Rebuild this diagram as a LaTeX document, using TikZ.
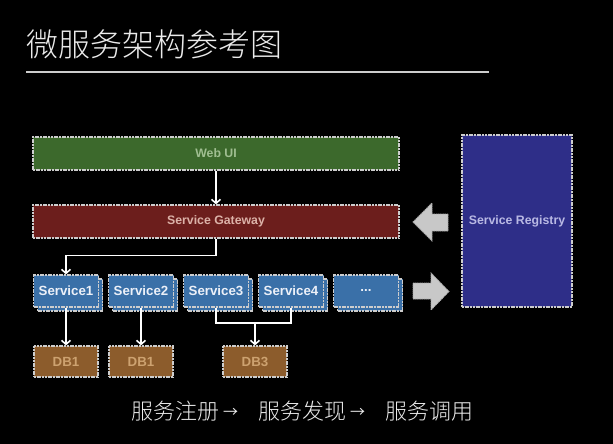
\documentclass[tikz,border=0pt]{standalone}
\usepackage{fontspec}
\setmainfont{Liberation Sans}
\newfontfamily\cjk{Noto Sans CJK SC Light}
\newfontfamily\cjkreg{Noto Sans CJK SC}
\usetikzlibrary{arrows.meta, shadows}

\definecolor{chalk}{RGB}{205,205,205}
\definecolor{webgreen}{RGB}{60,105,44}
\definecolor{webtext}{RGB}{160,190,145}
\definecolor{gatered}{RGB}{108,30,28}
\definecolor{gatetext}{RGB}{220,178,168}
\definecolor{svcblue}{RGB}{58,112,168}
\definecolor{svctext}{RGB}{236,240,248}
\definecolor{dbbrown}{RGB}{140,92,44}
\definecolor{dbtext}{RGB}{205,162,112}
\definecolor{regblue}{RGB}{46,46,136}
\definecolor{regtext}{RGB}{185,185,228}
\definecolor{arrowgray}{RGB}{200,200,200}

\newcommand{\steparrow}{\hspace{4pt}\raisebox{2pt}{\cjkreg\fontsize{15}{15}\selectfont →}\hspace{20pt}}

\begin{document}
\begin{tikzpicture}[x=1pt, y=-1pt,
  box/.style={rectangle, inner sep=0pt, draw=chalk, line width=1.2pt,
    dash pattern=on 2pt off 0.7pt, font=\bfseries\fontsize{12.3}{14}\selectfont},
  widebox/.style={box, minimum width=366pt, minimum height=33pt},
  svcbox/.style={box, fill=svcblue, text=svctext, minimum width=65pt, minimum height=32pt,
    copy shadow={shadow xshift=4pt, shadow yshift=-4pt},
    font=\bfseries\fontsize{13.3}{15}\selectfont},
  dbbox/.style={box, fill=dbbrown, text=dbtext, minimum width=64pt, minimum height=31pt,
    font=\bfseries\fontsize{13.3}{15}\selectfont},
  blockarrow/.style={fill=arrowgray, draw=arrowgray!85!black, line width=0.8pt,
    dash pattern=on 1.5pt off 0.6pt},
  link/.style={draw=white, line width=1.6pt},
  conn/.style={link, -{Straight Barb[length=4pt,width=9pt]}}]

\fill[black] (0,0) rectangle (613,444);
\useasboundingbox (0,0) rectangle (613,444);

%---title---
\node[anchor=base west, inner sep=0pt, text=white!92!black,
  font=\cjk\fontsize{32}{32}\selectfont] (title) at (26,57) {微服务架构参考图};
\draw[chalk, line width=1.5pt] (26,72) -- (489,72);

%---gateway side---
\node[widebox, fill=webgreen, text=webtext] (webui) at (216,153.5) {Web UI};
\node[widebox, fill=gatered, text=gatetext] (gateway) at (216,221.5) {Service Gateway};

%---services---
\node[svcbox] (svc1) at (66,291) {Service1};
\node[svcbox] (svc2) at (141,291) {Service2};
\node[svcbox] (svc3) at (216,291) {Service3};
\node[svcbox] (svc4) at (291,291) {Service4};
\node[svcbox] (svc5) at (366,291) {...};

%---databases---
\node[dbbox] (db1) at (66,361.5) {DB1};
\node[dbbox] (db2) at (141,361.5) {DB1};
\node[dbbox] (db3) at (255,361.5) {DB3};

%---registry---
\node[box, fill=regblue, text=regtext, minimum width=110pt, minimum height=172pt]
  (registry) at (517,221) {Service Registry};

\fill[blockarrow] (448,214) -- (432,214) -- (432,203) -- (413,222) -- (432,241)
  -- (432,231) -- (448,231) -- cycle;
\fill[blockarrow] (413,283) -- (431,283) -- (431,273) -- (449,291.5) -- (431,310)
  -- (431,299) -- (413,299) -- cycle;

%---connectors---
\draw[conn] (webui) -- (gateway);
\draw[conn] (gateway.south) -- ++(0,17) -| (svc1.north);
\draw[conn] (svc1) -- (db1);
\draw[conn] (svc2) -- (db2);
\coordinate (join) at (255,323);
\draw[link] (svc3.south) |- (join) -| (svc4.south);
\draw[conn] (join) -- (db3);

%---caption---
\node[anchor=base, inner sep=0pt, text=white!92!black,
  font=\cjk\fontsize{22}{22}\selectfont] (caption) at (302,419)
  {服务注册\steparrow 服务发现\steparrow 服务调用};

\end{tikzpicture}
\end{document}
